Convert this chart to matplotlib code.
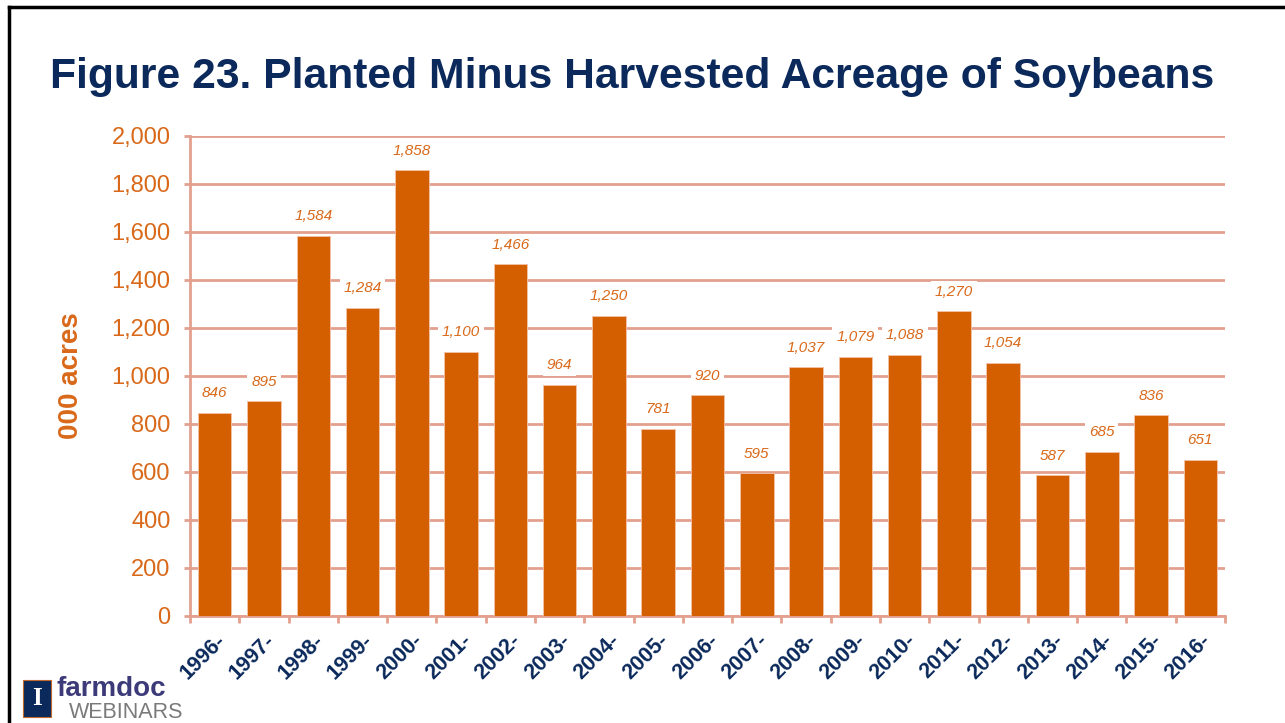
import matplotlib.pyplot as plt
from matplotlib.patches import Rectangle
from matplotlib.lines import Line2D
import numpy as np

years = ["1996-", "1997-", "1998-", "1999-", "2000-", "2001-", "2002-", "2003-",
         "2004-", "2005-", "2006-", "2007-", "2008-", "2009-", "2010-", "2011-",
         "2012-", "2013-", "2014-", "2015-", "2016-"]
acres = [846, 895, 1584, 1284, 1858, 1100, 1466, 964, 1250, 781, 920, 595,
         1037, 1079, 1088, 1270, 1054, 587, 685, 836, 651]
yticks = [0, 200, 400, 600, 800, 1000, 1200, 1400, 1600, 1800, 2000]

navy = "#0B2A5B"
orange = "#D45F00"
label_orange = "#D9691A"
salmon = "#E4A08E"

plt.rcParams['font.family'] = ['Liberation Sans', 'DejaVu Sans']

fig = plt.figure(figsize=(12.85, 7.23), dpi=100)
ax = fig.add_axes([0.1479, 0.148, 0.8054, 0.664])

x = np.arange(len(years))
ax.bar(x, acres, width=0.68, color=orange, edgecolor="#F3C3A8", linewidth=0.6, zorder=3)

for xi, v in zip(x, acres):
    ax.annotate(f"{v:,}", (xi, v), xytext=(0, 9), textcoords="offset points",
                ha="center", va="bottom", fontsize=11, style="italic",
                color=label_orange, zorder=5,
                bbox=dict(boxstyle="square,pad=0.25", fc="white", ec="none"))

ax.set_ylim(0, 2000)
ax.set_xlim(-0.5, len(years) - 0.5)
ax.set_yticks(yticks)
ax.set_yticklabels([f"{t:,}" for t in yticks], fontsize=17, color=label_orange)
ax.yaxis.grid(True, color=salmon, linewidth=2, zorder=0)
ax.tick_params(axis="y", length=4, width=2, color=salmon, pad=10)

ax.set_xticks(x)
ax.set_xticklabels(years, rotation=45, ha="right", rotation_mode="anchor",
                   fontsize=15.5, fontweight="bold", color=navy)
ax.tick_params(axis="x", which="major", length=0, pad=10)
ax.set_xticks(np.arange(-0.5, len(years)), minor=True)
ax.tick_params(axis="x", which="minor", length=5, width=2, color=salmon)

for s in ["top", "right"]:
    ax.spines[s].set_visible(False)
for s in ["left", "bottom"]:
    ax.spines[s].set_color(salmon)
    ax.spines[s].set_linewidth(2)

ax.set_ylabel("000 acres", fontsize=20, fontweight="bold", color=label_orange, labelpad=20)

fig.text(0.039, 0.893, "Figure 23. Planted Minus Harvested Acreage of Soybeans",
         fontsize=30.7, fontweight="bold", color=navy, ha="left", va="center")

# slide frame
fig.add_artist(Line2D([0.007, 0.007], [0, 0.990], color="black", linewidth=2.5,
                      transform=fig.transFigure))
fig.add_artist(Line2D([0.007, 1.0], [0.990, 0.990], color="black", linewidth=2.5,
                      transform=fig.transFigure))

# farmdoc logo
fig.add_artist(Rectangle((0.018, 0.008), 0.0215, 0.052, transform=fig.transFigure,
                         fc=navy, ec="#C06A30", lw=0.8))
fig.text(0.0288, 0.034, "I", fontsize=18, fontweight="bold", color="white",
         ha="center", va="center", family="Liberation Serif")
fig.text(0.044, 0.047, "farmdoc", fontsize=20, fontweight="bold", color="#3C3A78",
         ha="left", va="center")
fig.text(0.054, 0.015, "WEBINARS", fontsize=15.5, color="#7A7A7A",
         ha="left", va="center")

fig.savefig("out.png", dpi=100)
